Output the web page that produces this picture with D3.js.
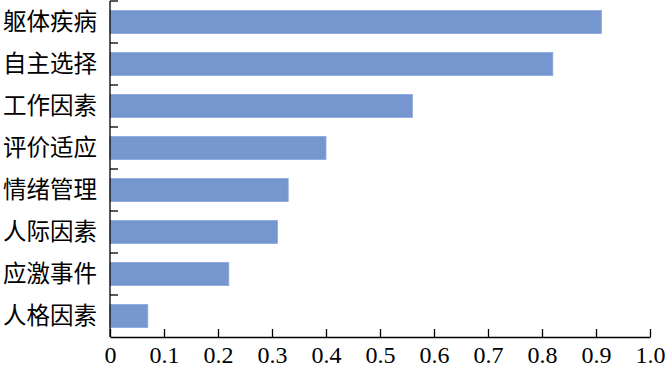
<!DOCTYPE html>
<html>
<head>
<meta charset="utf-8">
<script src="https://cdn.jsdelivr.net/npm/d3@7"></script>
<style>
  body { margin: 0; background: #fff; }
  .y-axis text { font-family: 'Noto Sans CJK SC', sans-serif; font-size: 23.5px; fill: #000; }
  .x-axis text { font-family: 'Liberation Serif', 'Times New Roman', serif; font-size: 24px; fill: #000; }
  .domain, .tick line { stroke: #000; stroke-width: 1.3; }
</style>
</head>
<body>
<svg id="chart" width="665" height="366"></svg>
<script>
const categories = ['躯体疾病', '自主选择', '工作因素', '评价适应', '情绪管理', '人际因素', '应激事件', '人格因素'];
const values = [0.91, 0.82, 0.56, 0.40, 0.33, 0.31, 0.22, 0.07];
const xTicks = [0, 0.1, 0.2, 0.3, 0.4, 0.5, 0.6, 0.7, 0.8, 0.9, 1.0];

const margin = { top: 1, right: 15, bottom: 29, left: 110 };
const width = 665 - margin.left - margin.right;
const height = 366 - margin.top - margin.bottom;

const svg = d3.select('#chart');
const chart = svg.append('g').attr('transform', `translate(${margin.left}, ${margin.top})`);

const xScale = d3.scaleLinear().domain([0, 1]).range([0, width]);
const yScale = d3.scaleBand().domain(categories).range([0, height]).paddingInner(0.45).paddingOuter(0.225);
const bandScale = d3.scaleBand().domain(categories).range([0, height]);

chart.selectAll('.bar')
  .data(categories)
  .join('rect')
  .attr('class', 'bar')
  .attr('x', 0)
  .attr('y', (d) => yScale(d))
  .attr('width', (d, i) => xScale(values[i]))
  .attr('height', yScale.bandwidth())
  .attr('fill', '#7596cf')
  .attr('stroke', '#8aa8dc')
  .attr('stroke-width', 0.8);

// y axis: ticks at band boundaries, pointing inward
const yAxisG = chart.append('g').attr('class', 'y-axis');
yAxisG.append('line').attr('class', 'domain').attr('x1', 0).attr('x2', 0).attr('y1', 0).attr('y2', height);
yAxisG.selectAll('.tick-line')
  .data(categories)
  .join('line')
  .attr('class', 'tick-line')
  .attr('stroke', '#000').attr('stroke-width', 1.3)
  .attr('x1', 0).attr('x2', 8)
  .attr('y1', (d) => bandScale(d)).attr('y2', (d) => bandScale(d));
yAxisG.selectAll('text')
  .data(categories)
  .join('text')
  .attr('x', -13)
  .attr('y', (d) => bandScale(d) + bandScale.bandwidth() / 2)
  .attr('dy', '0.35em')
  .attr('text-anchor', 'end')
  .text((d) => d);

// x axis
const xAxisG = chart.append('g')
  .attr('class', 'x-axis')
  .attr('transform', `translate(0, ${height})`)
  .call(d3.axisBottom(xScale).tickValues(xTicks).tickSizeInner(-8).tickSizeOuter(0).tickPadding(10)
    .tickFormat((d) => (d === 0 ? '0' : d3.format('.1f')(d))));
xAxisG.selectAll('.tick text').attr('y', 26).attr('dy', null);
</script>
</body>
</html>
